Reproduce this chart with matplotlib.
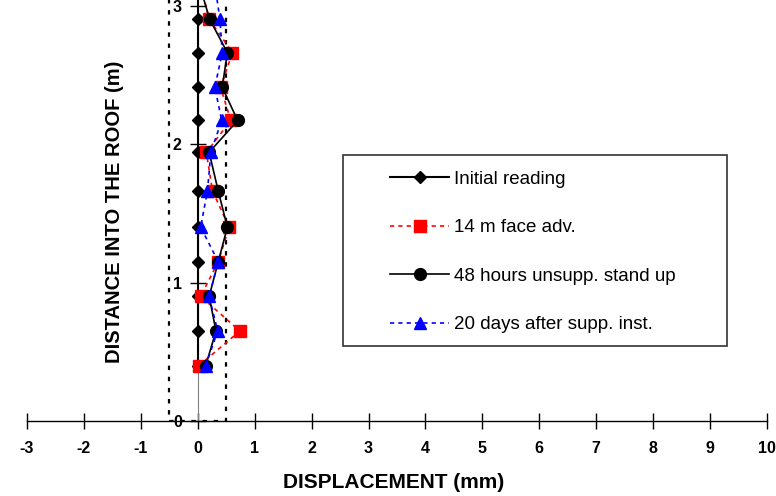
import numpy as np
import matplotlib
matplotlib.use("Agg")
import matplotlib.pyplot as plt
from matplotlib.patches import Rectangle

plt.rcParams['font.family'] = ['Liberation Sans', 'DejaVu Sans']
plt.rcParams['axes.unicode_minus'] = False

# depth of each reading (m), last one sits just above the visible range
depth = [0.40, 0.65, 0.90, 1.15, 1.40, 1.66, 1.94, 2.17, 2.41, 2.66, 2.90, 3.15]

# displacement (mm) for each reading
initial = [0, 0, 0, 0, 0, 0, 0, 0, 0, 0, 0, 0]
face_adv = [0.02, 0.74, 0.05, 0.36, 0.55, 0.26, 0.15, 0.58, 0.40, 0.61, 0.20, 0.05]
unsupp = [0.14, 0.32, 0.20, 0.36, 0.52, 0.36, 0.20, 0.70, 0.43, 0.52, 0.21, 0.03]
after_supp = [0.14, 0.35, 0.20, 0.36, 0.05, 0.17, 0.23, 0.42, 0.30, 0.43, 0.39, 0.30]

labels = ["Initial reading", "14 m face adv.", "48 hours unsupp. stand up",
          "20 days after supp. inst."]

fig = plt.figure(figsize=(7.76, 4.96), dpi=100)
ax = fig.add_axes([27/776, 75/496, 740/776, 421/496])

# dotted limit box at +/- 0.5 mm
ax.plot([-0.5, -0.5, 0.5, 0.5], [3.5, 0, 0, 3.5], color='black', ls=(0, (2, 3)), lw=1.6,
        clip_on=True, zorder=1)

dash = (0, (2.5, 2.5))
l1, = ax.plot(initial, depth, color='black', lw=1.5, marker='D', ms=6.5, zorder=3)
l2, = ax.plot(face_adv, depth, color='red', ls=dash, lw=1.2, marker='s', ms=9, zorder=4)
l3, = ax.plot(unsupp, depth, color='black', lw=1.2, marker='o', ms=8.5, zorder=5)
l4, = ax.plot(after_supp, depth, color='blue', ls=dash, lw=1.2, marker='^', ms=9, zorder=6)

ax.set_xlim(-3, 10)
ax.set_ylim(0, 3.04)
ax.set_xticks(np.arange(-3, 11))
ax.set_yticks([0, 1, 2, 3])

for s in ['top', 'right']:
    ax.spines[s].set_visible(False)
ax.spines['left'].set_position(('data', 0))
ax.spines['left'].set_color('gray')
ax.spines['left'].set_zorder(2)
ax.spines['bottom'].set_linewidth(1.0)

ax.tick_params(axis='x', direction='inout', length=11, width=1, pad=9, labelsize=11.5)
ax.tick_params(axis='y', direction='inout', length=11, width=1, pad=6, labelsize=11.5,
               color='black')
for t in ax.get_xticklabels() + ax.get_yticklabels():
    t.set_fontweight('bold')

fig.text(394/776, 1 - 482/496, "DISPLACEMENT (mm)", ha='center', va='center',
         fontsize=15, fontweight='bold')
fig.text(115/776, 1 - 212/496, "DISTANCE INTO THE ROOF (m)", ha='center', va='center',
         rotation=90, fontsize=14.5, fontweight='bold')

# legend frame
fig.patches.append(Rectangle((343/776, 1 - 346/496), 384/776, 191/496,
                             transform=fig.transFigure, fill=False,
                             edgecolor='#333333', lw=1.2))
fig.legend([l1, l2, l3, l4], labels, loc='center left',
           bbox_to_anchor=(390/776, 1 - 252/496), frameon=False, fontsize=13.5,
           handlelength=3.15, handletextpad=0.27, labelspacing=1.67, borderpad=0,
           borderaxespad=0)

fig.savefig("out.png", dpi=100)
